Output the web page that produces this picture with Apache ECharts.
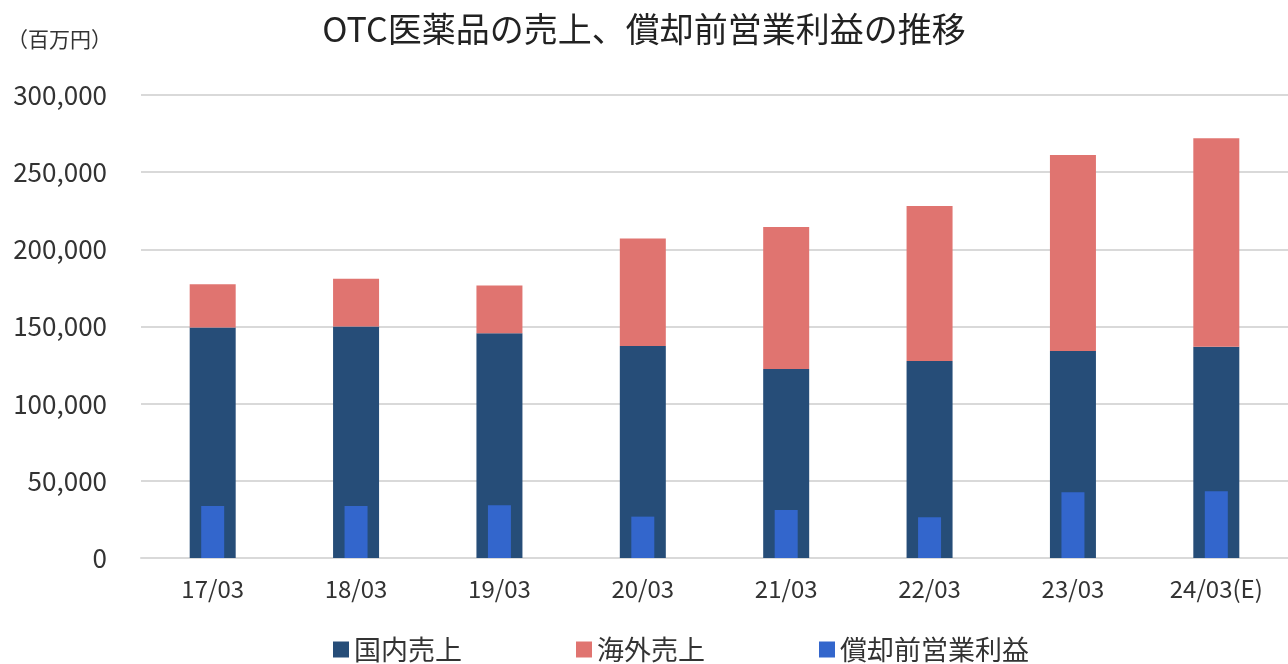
<!DOCTYPE html>
<html><head><meta charset="utf-8">
<script src="https://cdn.jsdelivr.net/npm/echarts@6/dist/echarts.min.js"></script>
<style>html,body{margin:0;padding:0;background:#fff}#c{width:1288px;height:664px}</style>
</head><body><div id="c"></div>
<script>
const categories = ['17/03','18/03','19/03','20/03','21/03','22/03','23/03','24/03(E)'];
const domestic = [149400, 150000, 145700, 137400, 122500, 127700, 134200, 136800];
const overseas = [27900, 30900, 30900, 69600, 91900, 100300, 126900, 135100];
const opProfit = [33700, 33700, 34200, 26800, 31100, 26400, 42600, 43200];
const seriesNames = ['国内売上','海外売上','償却前営業利益'];
const yTicks = {min:0, max:300000, interval:50000};

const font = '"Noto Sans CJK JP", "Noto Sans", sans-serif';
const chart = echarts.init(document.getElementById('c'), null, {renderer:'canvas'});
chart.setOption({
  animation:false,
  backgroundColor:'#fff',
  title:[
    {text:'OTC医薬品の売上、償却前営業利益の推移', left:'center', top:7,
     textStyle:{fontFamily:font, fontSize:34, fontWeight:'normal', color:'#222'}},
    {text:'（百万円）', left:2, top:24,
     textStyle:{fontFamily:font, fontSize:21, fontWeight:'normal', color:'#333'}}
  ],
  legend:{
    data:seriesNames, left:328, bottom:-4, itemWidth:16, itemHeight:16, itemGap:114,
    icon:'rect',
    textStyle:{fontFamily:font, fontSize:27, color:'#333'}
  },
  grid:{left:141, right:0, top:95, bottom:106, containLabel:false},
  xAxis:[
    {type:'category', data:categories,
     axisLine:{show:true, lineStyle:{color:'#d9d9d9', width:2}},
     axisTick:{show:false},
     axisLabel:{fontFamily:font, fontSize:24, color:'#333', margin:19}},
    {type:'category', data:categories, show:false}
  ],
  yAxis:{type:'value', min:yTicks.min, max:yTicks.max, interval:yTicks.interval,
    axisLine:{show:false}, axisTick:{show:false},
    splitLine:{lineStyle:{color:'#d9d9d9', width:2}},
    axisLabel:{fontFamily:font, fontSize:26, color:'#333', margin:34,
      formatter:v=>v.toLocaleString('en-US')}},
  series:[
    {name:seriesNames[0], type:'bar', stack:'s', xAxisIndex:0, data:domestic, barWidth:46,
     itemStyle:{color:'#264D78'}},
    {name:seriesNames[1], type:'bar', stack:'s', xAxisIndex:0, data:overseas, barWidth:46,
     itemStyle:{color:'#E07470'}},
    {name:seriesNames[2], type:'bar', xAxisIndex:1, data:opProfit, barWidth:23,
     itemStyle:{color:'#3366CC'}}
  ]
});
</script></body></html>
